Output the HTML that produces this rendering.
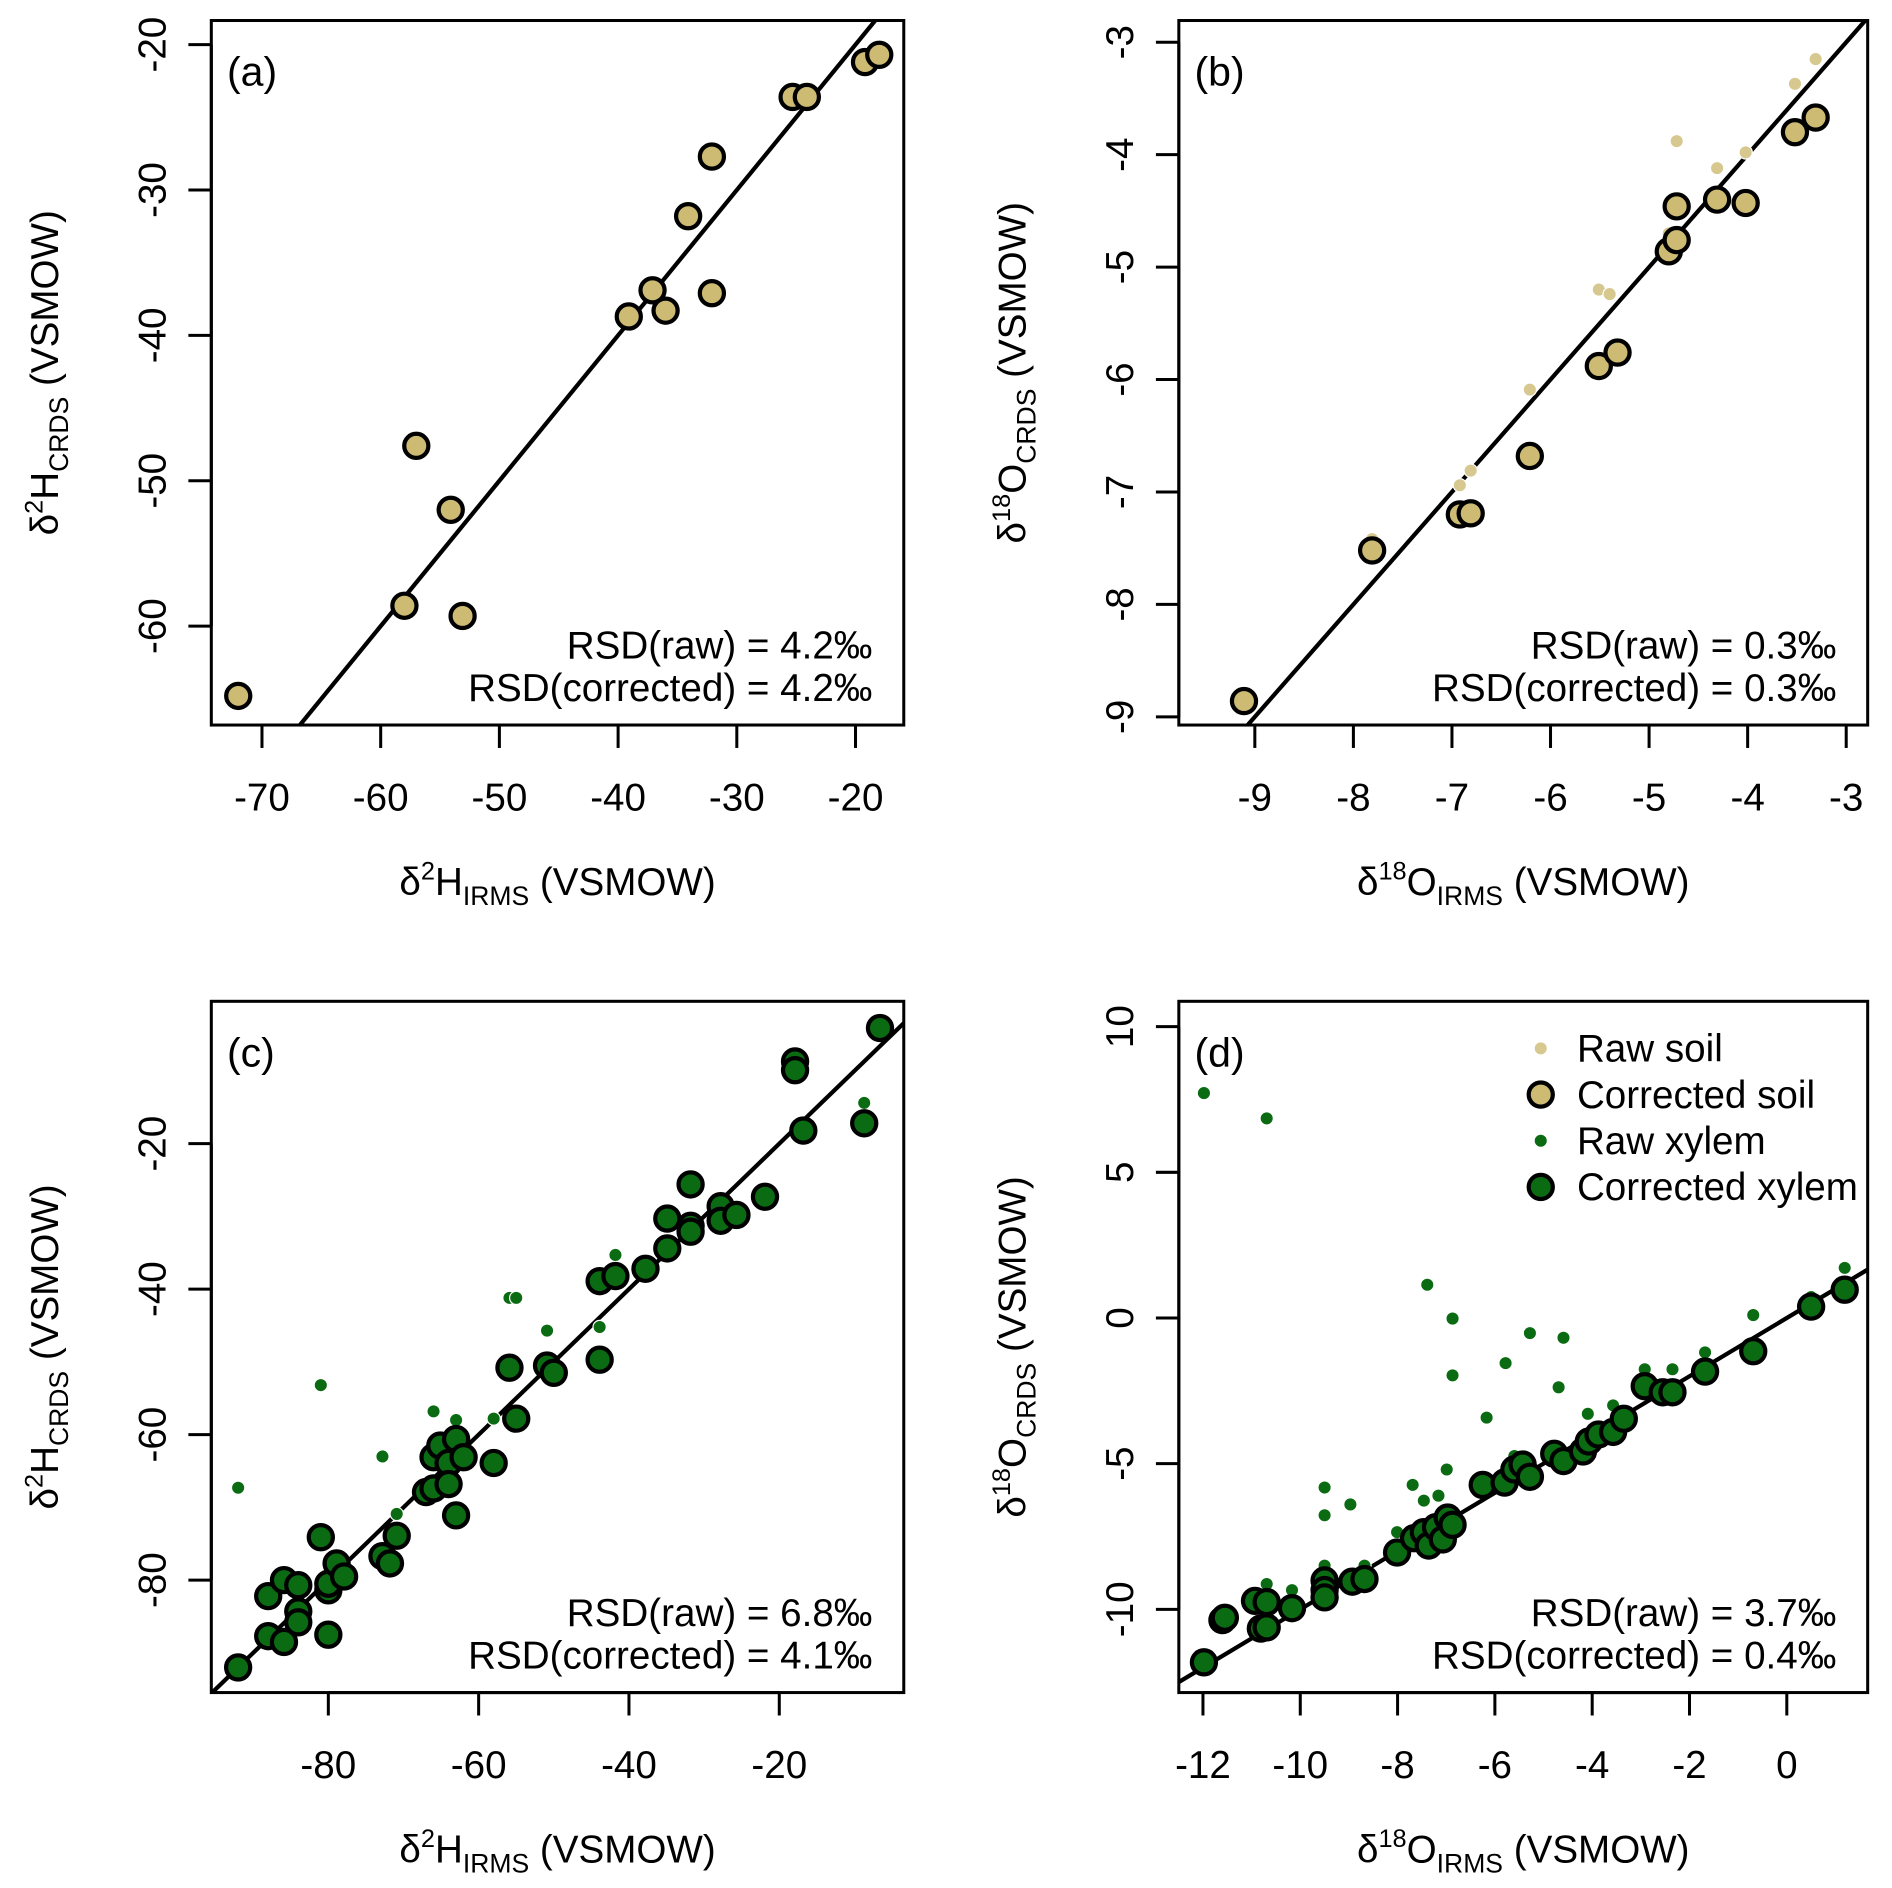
<!DOCTYPE html>
<html><head><meta charset="utf-8"><style>html,body{margin:0;padding:0;background:#fff}svg{display:block}text{font-family:"Liberation Sans",Arial,sans-serif;fill:#000}</style></head>
<body>
<svg id="fig" width="1892" height="1888" viewBox="0 0 1568 1565" xmlns="http://www.w3.org/2000/svg"></svg>
<script>
// Panel (a): d2H soil
const aRawX=[-72,-58,-53.1,-57,-54.1,-39.1,-37.1,-36,-32.1,-32.1,-34.1,-25.3,-24.1,-19.2,-18];
const aRawY=[-64.6,-58.3,-59.1,-47.4,-51.8,-38.5,-36.7,-38.1,-36.9,-27.5,-31.6,-23.4,-23.4,-21,-20.5];
const aCorX=[-72,-58,-53.1,-57,-54.1,-39.1,-37.1,-36,-32.1,-32.1,-34.1,-25.3,-24.1,-19.2,-18];
const aCorY=[-64.8,-58.6,-59.3,-47.6,-52,-38.7,-36.9,-38.3,-37.1,-27.7,-31.8,-23.6,-23.6,-21.2,-20.7];
// Panel (b): d18O soil
const bRawX=[-9.11,-7.81,-6.92,-6.81,-6.21,-5.51,-5.4,-4.8,-4.72,-4.31,-4.02,-3.52,-3.31];
const bRawY=[-8.88,-7.42,-6.94,-6.81,-6.09,-5.2,-5.24,-4.7,-3.88,-4.12,-3.98,-3.37,-3.15];
const bCorX=[-9.11,-7.81,-6.92,-6.81,-6.21,-5.51,-5.32,-4.8,-4.72,-4.72,-4.31,-4.02,-3.52,-3.31];
const bCorY=[-8.86,-7.52,-7.2,-7.19,-6.68,-5.88,-5.76,-4.86,-4.76,-4.46,-4.4,-4.43,-3.8,-3.67];
// Panel (c): d2H xylem
const cCorX=[-92,-88,-88,-85.9,-85.9,-84,-84,-84,-81,-80,-80,-80,-78.9,-77.9,-72.8,-71.8,-70.9,-67,-66,-66,-65.1,-64,-64,-63,-63,-62,-58,-55.9,-55,-50.9,-50,-43.9,-43.9,-41.8,-37.8,-34.9,-34.9,-31.8,-31.8,-31.8,-27.8,-27.8,-25.7,-21.9,-17.9,-17.9,-16.8,-8.7,-6.6];
const cCorY=[-92,-82.2,-87.7,-88.5,-80,-80.7,-84.3,-85.8,-74.1,-81.4,-80.5,-87.5,-77.7,-79.5,-76.7,-77.7,-73.9,-67.9,-67.4,-63.1,-61.5,-63.9,-66.8,-60.6,-71.1,-63.1,-63.9,-50.8,-57.8,-50.5,-51.5,-38.9,-49.7,-38.2,-37.2,-34.4,-30.3,-31.3,-25.6,-32.1,-28.6,-30.6,-29.8,-27.3,-8.7,-9.9,-18.2,-17.2,-4.1];
const cRawX=[-92,-81,-72.8,-70.9,-66,-63,-58,-55.9,-55,-50.9,-43.9,-41.8,-8.7,-31.8,-88,-84,-80,-64,-37.8,-27.8,-17.9,-6.6];
const cRawY=[-67.3,-53.2,-63,-70.9,-56.8,-58,-57.8,-41.2,-41.2,-45.7,-45.2,-35.3,-14.4,-25,-82,-84,-81,-62,-37,-28.4,-9,-4];
// Panel (d): d18O xylem
const dCorX=[-11.98,-11.6,-11.55,-10.93,-10.81,-10.69,-10.69,-10.17,-9.5,-9.5,-9.5,-8.93,-8.68,-8.01,-7.66,-7.46,-7.36,-7.21,-7.07,-6.97,-6.87,-6.25,-5.8,-5.6,-5.43,-5.28,-4.78,-4.59,-4.19,-4.07,-3.87,-3.57,-3.35,-2.92,-2.55,-2.35,-1.68,-0.69,0.5,1.19];
const dCorY=[-11.82,-10.37,-10.29,-9.71,-10.66,-9.75,-10.62,-9.96,-9.01,-9.34,-9.59,-9.05,-8.96,-8.05,-7.56,-7.35,-7.81,-7.18,-7.6,-6.85,-7.1,-5.73,-5.65,-5.2,-5.03,-5.45,-4.66,-4.91,-4.58,-4.24,-4,-3.91,-3.46,-2.34,-2.55,-2.55,-1.84,-1.14,0.39,0.97];
const dRawX=[-11.98,-10.69,-7.39,-6.87,-6.87,-5.28,-4.59,-5.78,-6.17,-4.69,-9.5,-9.5,-8.97,-7.69,-6.99,-7.16,-7.46,-3.57,-4.09,-3.72,-0.69,0.5,1.19,-2.92,-2.35,-1.68,-10.69,-10.17,-8.68,-9.5,-8.01,-5.6,-11.6];
const dRawY=[7.72,6.85,1.14,-0.02,-1.97,-0.52,-0.68,-1.55,-3.42,-2.38,-5.82,-6.77,-6.4,-5.73,-5.2,-6.1,-6.27,-3,-3.29,-3.83,0.1,0.72,1.72,-1.76,-1.76,-1.18,-9.13,-9.34,-8.5,-8.5,-7.35,-4.74,-10.1];
const aTicksX=[-70,-60,-50,-40,-30,-20], aTicksY=[-20,-30,-40,-50,-60];
const bTicksX=[-9,-8,-7,-6,-5,-4,-3], bTicksY=[-3,-4,-5,-6,-7,-8,-9];
const cTicksX=[-80,-60,-40,-20], cTicksY=[-20,-40,-60,-80];
const dTicksX=[-12,-10,-8,-6,-4,-2,0], dTicksY=[10,5,0,-5,-10];

const NS="http://www.w3.org/2000/svg";
const svg=document.getElementById('fig');
function mk(tag,attrs,parent){const e=document.createElementNS(NS,tag);for(const k in attrs)e.setAttribute(k,attrs[k]);(parent||svg).appendChild(e);return e;}
const SOIL="#cdbb73", RAWSOIL="#d6c88e", GREEN="#0b6b12";
const FS=32;

function panel(o){
  const g=mk('g',{});
  
  
  const sx=v=>o.px0+(v-o.x0)*o.kx, sy=v=>o.py0-(v-o.y0)*o.ky;
  const L=o.box[0],T=o.box[1],R=o.box[2],B=o.box[3];
  const clipId='clip'+o.id;
  const cp=mk('clipPath',{id:clipId},g); mk('rect',{x:L,y:T,width:R-L,height:B-T},cp);
  const plot=mk('g',{'clip-path':'url(#'+clipId+')'},g);
  const ln=mk('line',{x1:sx(o.lx[0]),y1:sy(o.lx[0]),x2:sx(o.lx[1]),y2:sy(o.lx[1]),stroke:'#000','stroke-width':3.5},plot);
  
  
  o.raw[0].forEach((x,i)=>{const c=mk('circle',{cx:sx(x),cy:sy(o.raw[1][i]),r:5.5,fill:o.rawCol,stroke:'#fff','stroke-width':1},plot);
    
    });
  o.cor[0].forEach((x,i)=>{const c=mk('circle',{cx:sx(x),cy:sy(o.cor[1][i]),r:10,fill:o.corCol,stroke:'#000','stroke-width':3.5},plot);
    
    });
  const box=mk('rect',{x:L,y:T,width:R-L,height:B-T,fill:'none',stroke:'#000','stroke-width':2.5},g);
  
  
  const xs=o.tx.map(sx);
  mk('line',{x1:Math.min(...xs),y1:B,x2:Math.max(...xs),y2:B,stroke:'#000','stroke-width':2.5},g);
  o.tx.forEach(v=>{const x=sx(v);mk('line',{x1:x,y1:B,x2:x,y2:B+19,stroke:'#000','stroke-width':2.5},g);
    const t=mk('text',{x:x,y:B+71,'text-anchor':'middle','font-size':FS},g);t.textContent=v;
    
    });
  const ys=o.ty.map(sy);
  mk('line',{x1:L,y1:Math.min(...ys),x2:L,y2:Math.max(...ys),stroke:'#000','stroke-width':2.5},g);
  o.ty.forEach(v=>{const y=sy(v);mk('line',{x1:L-19,y1:y,x2:L,y2:y,stroke:'#000','stroke-width':2.5},g);
    const t=mk('text',{x:0,y:0,'text-anchor':'middle','font-size':FS,transform:'translate('+(L-38)+','+y+') rotate(-90)'},g);t.textContent=v;
    
    });
  const xt=mk('text',{x:(L+R)/2,y:B+141,'text-anchor':'middle','font-size':FS},g);
  xt.innerHTML='δ<tspan dy="-13" font-size="21">'+o.iso+'</tspan><tspan dy="13">'+o.el+'</tspan><tspan dy="8" font-size="22">IRMS</tspan><tspan dy="-8"> (VSMOW)</tspan>';
  
  
  const yt=mk('text',{x:0,y:0,'text-anchor':'middle','font-size':FS,transform:'translate('+(L-127)+','+(T+B)/2+') rotate(-90)'},g);
  yt.innerHTML='δ<tspan dy="-13" font-size="21">'+o.iso+'</tspan><tspan dy="13">'+o.el+'</tspan><tspan dy="8" font-size="22">CRDS</tspan><tspan dy="-8"> (VSMOW)</tspan>';
  
  
  const lab=mk('text',{x:L+13,y:T+54,'font-size':34},g);lab.textContent='('+o.id+')';
  
  
  const r1=mk('text',{x:R-26,y:B-55,'text-anchor':'end','font-size':FS},g);r1.textContent='RSD(raw) = '+o.rsd[0]+'‰';
  
  
  const r2=mk('text',{x:R-26,y:B-20,'text-anchor':'end','font-size':FS},g);r2.textContent='RSD(corrected) = '+o.rsd[1]+'‰';
  
  
}
panel({id:'a',box:[175,17,749,601],x0:-70,px0:217,kx:9.84,y0:-20,py0:37,ky:12.05,lx:[-100,0],tx:aTicksX,ty:aTicksY,raw:[aRawX,aRawY],cor:[aCorX,aCorY],rawCol:RAWSOIL,corCol:SOIL,iso:'2',el:'H',rsd:['4.2','4.2']});
panel({id:'b',box:[977,17,1548,601],x0:-9,px0:1040,kx:81.7,y0:-3,py0:35,ky:93.2,lx:[-12,0],tx:bTicksX,ty:bTicksY,raw:[bRawX,bRawY],cor:[bCorX,bCorY],rawCol:RAWSOIL,corCol:SOIL,iso:'18',el:'O',rsd:['0.3','0.3']});
panel({id:'c',box:[175,830,749,1403],x0:-80,px0:272,kx:6.23,y0:-20,py0:948,ky:6.03,lx:[-120,20],tx:cTicksX,ty:cTicksY,raw:[cRawX,cRawY],cor:[cCorX,cCorY],rawCol:GREEN,corCol:GREEN,iso:'2',el:'H',rsd:['6.8','4.1']});
panel({id:'d',box:[977,830,1548,1403],x0:-12,px0:997,kx:40.33,y0:10,py0:851,ky:24.15,lx:[-20,10],tx:dTicksX,ty:dTicksY,raw:[dRawX,dRawY],cor:[dCorX,dCorY],rawCol:GREEN,corCol:GREEN,iso:'18',el:'O',rsd:['3.7','0.4']});
const leg=mk('g',{});


const entries=[['Raw soil',RAWSOIL,5.5,false],['Corrected soil',SOIL,10,true],['Raw xylem',GREEN,5.5,false],['Corrected xylem',GREEN,10,true]];
entries.forEach((e,i)=>{const y=869+i*38.3;
  mk('circle',{cx:1277,cy:y,r:e[2],fill:e[1],stroke:e[3]?'#000':'#fff','stroke-width':e[3]?3.5:1},leg);
  const t=mk('text',{x:1307,y:y+11,'font-size':FS},leg);t.textContent=e[0];
  
  });
</script>
</body></html>
